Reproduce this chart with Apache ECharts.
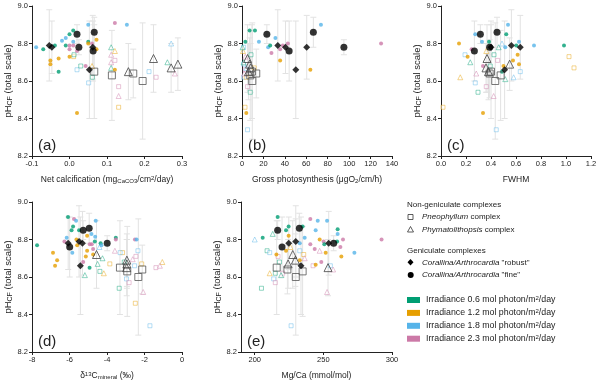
<!DOCTYPE html>
<html>
<head>
<meta charset="utf-8">
<script src="https://cdn.jsdelivr.net/npm/echarts@6/dist/echarts.min.js"></script>
<style>
  html, body { margin: 0; padding: 0; background: #fff; }
  #chart { width: 600px; height: 382px; }
</style>
</head>
<body>
<div id="chart"></div>
<script>
// irradiance classes: 0.6, 1.2, 1.8, 2.3 mol photon/m2/day
const irrColors = ['#009E73', '#E69F00', '#56B4E9', '#CC79A7'];
const irrValues = ['0.6', '1.2', '1.8', '2.3'];

// group means of pHcf (same in every panel) and their error
const finePH = [8.85, 8.86, 8.78, 8.76];
const fineErr = [0.05, 0.08, 0.04, 0.16];
const robustPH = [8.79, 8.78, 8.78, 8.66];
const robustErr = [0.19, 0.14, 0.17, 0.26];
const pneoPH = [8.65, 8.63, 8.64, 8.60];
const pneoErr = [0.25, 0.24, 0.13, 0.31];
const phymPH = [8.65, 8.72, 8.67, 8.69];
const phymErr = [0.15, 0.18, 0.13, 0.14];

// (a) net calcification
const aFineX = [0.02, 0.066, 0.025, 0.063];
const aRobustX = [-0.054, -0.047, 0.062, 0.053];
const aPneoX = [0.066, 0.113, 0.17, 0.195];
const aPhymX = [0.157, 0.224, 0.271, 0.289];
// [x, pH, irradiance index]
const aDots = [[-0.089,8.78,2],[-0.07,8.77,0],[-0.039,8.79,0],[-0.051,8.71,1],[-0.051,8.69,1],[-0.029,8.72,1],[-0.029,8.65,0],[-0.02,8.815,2],[-0.01,8.83,2],[0.0,8.85,0],[0.01,8.87,0],[-0.01,8.79,0],[0.01,8.81,2],[0.0,8.79,3],[0.01,8.79,3],[0.0,8.77,3],[0.02,8.76,3],[0.0,8.73,1],[0.05,8.90,2],[0.05,8.81,0],[0.05,8.80,1],[0.06,8.80,3],[0.072,8.82,1],[0.072,8.77,1],[0.121,8.91,3],[0.153,8.90,2],[0.02,8.43,1],[0.121,8.66,1],[0.043,8.68,3]];
const aSquares = [[0.02,8.66,2],[0.011,8.73,1],[0.012,8.74,0],[0.03,8.68,0],[0.051,8.59,2],[0.061,8.62,0],[0.121,8.71,3],[0.131,8.57,3],[0.131,8.46,1],[0.212,8.65,2],[0.231,8.62,3]];
const aTriangles = [[0.111,8.78,0],[0.121,8.76,1],[0.111,8.74,3],[0.111,8.70,3],[0.111,8.67,0],[0.131,8.52,3],[0.271,8.80,2],[0.261,8.70,0],[0.281,8.64,3],[0.06,8.68,1]];

// (b) gross photosynthesis
const bFineX = [23.2, 66.6, 95.1, 44.0];
const bRobustX = [33.4, 40.6, 60.4, 50.2];
const bPneoX = [9.3, 7.7, 13.3, 9.6];
const bPhymX = [6, 5.2, 8, 7.1];
const bDots = [[7.1,8.87,0],[12.1,8.87,0],[3.1,8.81,0],[15.8,8.81,2],[24.4,8.78,2],[26.3,8.79,0],[27.5,8.75,3],[31.2,8.83,2],[35.6,8.71,1],[35.6,8.77,3],[38.1,8.79,3],[42.8,8.80,3],[73.7,8.90,2],[63.8,8.66,1],[129.8,8.80,3],[4.0,8.43,1]];
const bSquares = [[1.5,8.78,2],[8.4,8.74,0],[11.4,8.67,1],[1.5,8.69,2],[5.2,8.57,3],[7.7,8.54,0],[2.8,8.46,1],[5.2,8.34,2],[1.5,8.62,2],[4.0,8.62,1],[3.0,8.66,3]];
const bTriangles = [[0.9,8.76,1],[3.1,8.73,3],[1.5,8.70,0],[4.0,8.67,2],[2.0,8.64,3],[0.5,8.78,0]];

// (c) FWHM
const cFineX = [0.315, 0.448, 0.389, 0.267];
const cRobustX = [0.563, 0.40, 0.634, 0.509];
const cPneoX = [0.40, 0.477, 0.389, 0.434];
const cPhymX = [0.38, 0.368, 0.36, 0.549];
const cDots = [[0.536,8.90,2],[0.522,8.85,0],[0.274,8.85,2],[0.328,8.81,2],[0.384,8.81,0],[0.514,8.78,2],[0.602,8.79,0],[0.624,8.81,2],[0.744,8.79,2],[0.984,8.79,0],[0.144,8.80,1],[0.213,8.73,1],[0.576,8.71,1],[0.613,8.74,1],[0.624,8.69,1],[0.245,8.77,3],[0.336,8.68,3],[0.336,8.43,1],[0.488,8.65,0],[0.50,8.68,1]];
const cSquares = [[1.024,8.73,1],[1.064,8.67,1],[0.016,8.46,1],[0.192,8.74,2],[0.424,8.74,0],[0.453,8.71,3],[0.634,8.65,2],[0.274,8.59,2],[0.296,8.54,0],[0.362,8.57,3],[0.442,8.34,2],[0.394,8.68,0]];
const cTriangles = [[0.154,8.62,1],[0.234,8.70,0],[0.282,8.64,3],[0.461,8.78,0],[0.488,8.80,2],[0.514,8.61,0],[0.581,8.62,2],[0.421,8.52,3],[0.362,8.76,1]];

// (d) d13C mineral
const dFineX = [-5.27, -4.95, -3.99, -5.99];
const dRobustX = [-5.49, -6.07, -5.31, -5.42];
const dPneoX = [-3.31, -2.92, -2.12, -2.33];
const dPhymX = [-2.95, -4.56, -2.94, -2.94];
const dDots = [[-7.73,8.77,0],[-6.88,8.73,1],[-6.66,8.69,1],[-6.77,8.66,1],[-6.08,8.92,0],[-5.76,8.91,3],[-5.65,8.90,2],[-5.81,8.87,0],[-5.89,8.85,0],[-5.49,8.85,0],[-4.6,8.90,2],[-5.06,8.82,1],[-4.83,8.83,2],[-4.63,8.815,2],[-4.65,8.79,0],[-6.27,8.79,3],[-6.15,8.81,2],[-5.63,8.80,1],[-5.59,8.77,1],[-4.92,8.775,3],[-4.81,8.775,3],[-4.74,8.75,3],[-5.06,8.74,1],[-5.13,8.71,1],[-4.74,8.72,1],[-5.27,8.68,3],[-4.93,8.65,0],[-3.53,8.81,0],[-3.53,8.80,3],[-2.51,8.80,3],[-2.42,8.80,2],[-4.34,8.78,0],[-4.3,8.77,2],[-5.85,8.73,2]];
const dSquares = [[-3.85,8.67,1],[-3.17,8.73,1],[-3.3,8.73,2],[-2.35,8.74,2],[-3.08,8.68,0],[-4.38,8.63,0],[-2.96,8.59,2],[-2.82,8.57,3],[-2.46,8.71,3],[-3.35,8.54,0],[-2.49,8.46,1],[-1.71,8.34,2],[-1.39,8.65,3],[-2.15,8.67,1],[-2.53,8.66,2]];
const dTriangles = [[-5.18,8.61,0],[-3.58,8.74,3],[-4.24,8.70,0],[-4.5,8.67,0],[-4.17,8.62,1],[-2.07,8.52,3],[-1.05,8.68,1],[-1.18,8.66,3],[-2.63,8.695,3],[-4.4,8.76,2]];

// (e) Mg/Ca
const eFineX = [216.7, 232.5, 257.5, 219.9];
const eRobustX = [229.9, 224.8, 253.9, 233.7];
const ePneoX = [216.0, 234.9, 223.8, 229.9];
const ePhymX = [253.4, 227.7, 224.3, 229.6];
const eDots = [[216.7,8.92,0],[205.8,8.81,0],[224.7,8.87,0],[222.8,8.85,0],[224.7,8.82,1],[234.9,8.87,0],[232.8,8.78,2],[236.4,8.81,2],[240.5,8.91,3],[245.9,8.90,2],[252.7,8.90,2],[244.4,8.85,2],[260.4,8.855,0],[260.4,8.83,2],[240.5,8.775,3],[243.7,8.75,3],[247.3,8.80,1],[250.2,8.79,3],[250.7,8.775,0],[251.7,8.73,1],[248.5,8.68,3],[244.4,8.665,1],[262.4,8.76,3],[264.3,8.80,3],[272.6,8.73,2],[263.1,8.71,1],[292.4,8.80,3],[215.8,8.72,1],[222.8,8.74,1],[232.8,8.69,1],[260,8.79,0]];
const eSquares = [[209,8.74,0],[210.9,8.73,2],[218,8.68,0],[213.8,8.59,2],[215,8.57,3],[204.9,8.54,0],[226.5,8.34,2],[217,8.71,3],[215,8.62,0],[232.8,8.74,2],[235.7,8.72,1],[220.4,8.62,3],[255.1,8.66,2],[242.5,8.66,3]];
const eTriangles = [[200,8.80,2],[213.1,8.83,0],[210.9,8.62,1],[219.2,8.61,0],[236.4,8.70,3],[247.3,8.74,3],[252.7,8.52,3],[257.1,8.64,3],[226,8.76,1]];

const FONT = 'Liberation Sans, Arial, sans-serif';
const TXT = '#222';
function subRich(size) {
  return {
    sub: { fontSize: size, verticalAlign: 'bottom', lineHeight: size, fontFamily: FONT, color: TXT },
    sup: { fontSize: size, verticalAlign: 'top', lineHeight: size, fontFamily: FONT, color: TXT }
  };
}

const panels = [
  { letter: '(a)', grid: { left: 32, top: 6, width: 150, height: 150 },
    x: { min: -0.1, max: 0.3, interval: 0.1, dec: 1 },
    name: 'Net calcification (mg{sub|CaCO3}/cm{sup|2}/day)',
    fineX: aFineX, robustX: aRobustX, pneoX: aPneoX, phymX: aPhymX,
    dots: aDots, squares: aSquares, triangles: aTriangles },
  { letter: '(b)', grid: { left: 242, top: 6, width: 150, height: 150 },
    x: { min: 0, max: 140, interval: 20, dec: 0 },
    name: 'Gross photosynthesis (μgO{sub|2}/cm/h)',
    fineX: bFineX, robustX: bRobustX, pneoX: bPneoX, phymX: bPhymX,
    dots: bDots, squares: bSquares, triangles: bTriangles },
  { letter: '(c)', grid: { left: 441, top: 6, width: 150, height: 150 },
    x: { min: 0, max: 1.2, interval: 0.2, dec: 1 },
    name: 'FWHM',
    fineX: cFineX, robustX: cRobustX, pneoX: cPneoX, phymX: cPhymX,
    dots: cDots, squares: cSquares, triangles: cTriangles },
  { letter: '(d)', grid: { left: 32, top: 202, width: 150, height: 150 },
    x: { min: -8, max: 0, interval: 2, dec: 0 },
    name: 'δ{sup|13}C{sub|mineral} (‰)',
    fineX: dFineX, robustX: dRobustX, pneoX: dPneoX, phymX: dPhymX,
    dots: dDots, squares: dSquares, triangles: dTriangles },
  { letter: '(e)', grid: { left: 241, top: 202, width: 151, height: 150 },
    x: { min: 190, max: 300, custom: [200, 250, 300], dec: 0 },
    name: 'Mg/Ca (mmol/mol)',
    fineX: eFineX, robustX: eRobustX, pneoX: ePneoX, phymX: ePhymX,
    dots: eDots, squares: eSquares, triangles: eTriangles }
];

function renderErr(params, api) {
  const x = api.value(0);
  const top = api.coord([x, api.value(2)]);
  const bot = api.coord([x, api.value(1)]);
  const w = 3;
  const style = { stroke: '#e2e2e2', lineWidth: 1 };
  return {
    type: 'group',
    children: [
      { type: 'line', shape: { x1: top[0], y1: top[1], x2: bot[0], y2: bot[1] }, style: style },
      { type: 'line', shape: { x1: top[0] - w, y1: top[1], x2: top[0] + w, y2: top[1] }, style: style },
      { type: 'line', shape: { x1: bot[0] - w, y1: bot[1], x2: bot[0] + w, y2: bot[1] }, style: style }
    ]
  };
}

const axisLine = { onZero: false, lineStyle: { color: '#222', width: 1 } };
const axisTick = { length: 3, lineStyle: { color: '#222' } };

let grids = [], xAxes = [], yAxes = [], series = [], graphics = [];

panels.forEach(function (p, i) {
  grids.push(p.grid);
  let xa = {
    type: 'value', gridIndex: i, min: p.x.min, max: p.x.max,
    axisLine: axisLine, axisTick: Object.assign({}, axisTick),
    splitLine: { show: false },
    axisLabel: { fontSize: 7.5, color: TXT, fontFamily: FONT, margin: 4,
      formatter: function (v) { return v.toFixed(p.x.dec); } },
    name: p.name, nameLocation: 'middle', nameGap: 19,
    nameTextStyle: { fontSize: 8.5, color: TXT, fontFamily: FONT, rich: subRich(6) }
  };
  if (p.x.custom) {
    xa.axisTick.customValues = p.x.custom;
    xa.axisLabel.customValues = p.x.custom;
  } else {
    xa.interval = p.x.interval;
  }
  xAxes.push(xa);
  yAxes.push({
    type: 'value', gridIndex: i, min: 8.2, max: 9.0, interval: 0.2,
    axisLine: axisLine, axisTick: axisTick, splitLine: { show: false },
    axisLabel: { fontSize: 7.5, color: TXT, fontFamily: FONT, margin: 4,
      formatter: function (v) { return v.toFixed(1); } },
    name: 'pH{sub|CF} (total scale)', nameLocation: 'middle', nameGap: 11,
    nameTextStyle: { fontSize: 9.5, color: TXT, fontFamily: FONT, rich: subRich(7) }
  });

  // error bars for the group means
  const errData = [];
  [[p.fineX, finePH, fineErr], [p.robustX, robustPH, robustErr],
   [p.pneoX, pneoPH, pneoErr], [p.phymX, phymPH, phymErr]].forEach(function (g) {
    g[0].forEach(function (x, k) { errData.push([x, g[1][k] - g[2][k], g[1][k] + g[2][k]]); });
  });
  series.push({ type: 'custom', xAxisIndex: i, yAxisIndex: i, renderItem: renderErr,
    encode: { x: 0, y: [1, 2] }, data: errData, z: 1, silent: true });

  // individual samples
  series.push({ type: 'scatter', xAxisIndex: i, yAxisIndex: i, symbol: 'rect', symbolSize: 4, z: 2,
    data: p.squares.map(function (d) {
      return { value: [d[0], d[1]], itemStyle: { color: '#fff', borderColor: irrColors[d[2]], borderWidth: 0.8, opacity: 0.55 } };
    }) });
  series.push({ type: 'scatter', xAxisIndex: i, yAxisIndex: i, symbol: 'triangle', symbolSize: 5, z: 2,
    data: p.triangles.map(function (d) {
      return { value: [d[0], d[1]], itemStyle: { color: '#fff', borderColor: irrColors[d[2]], borderWidth: 0.8, opacity: 0.55 } };
    }) });
  series.push({ type: 'scatter', xAxisIndex: i, yAxisIndex: i, symbol: 'circle', symbolSize: 4, z: 3,
    data: p.dots.map(function (d) {
      return { value: [d[0], d[1]], itemStyle: { color: irrColors[d[2]] } };
    }) });

  // group means
  series.push({ type: 'scatter', xAxisIndex: i, yAxisIndex: i, symbol: 'rect', symbolSize: 7, z: 4,
    itemStyle: { color: 'rgba(255,255,255,0)', borderColor: '#555', borderWidth: 1 },
    data: p.pneoX.map(function (x, k) { return [x, pneoPH[k]]; }) });
  series.push({ type: 'scatter', xAxisIndex: i, yAxisIndex: i, symbol: 'triangle', symbolSize: 8, z: 4,
    itemStyle: { color: 'rgba(255,255,255,0)', borderColor: '#444', borderWidth: 1 },
    data: p.phymX.map(function (x, k) { return [x, phymPH[k]]; }) });
  series.push({ type: 'scatter', xAxisIndex: i, yAxisIndex: i, symbol: 'diamond', symbolSize: 7, z: 5,
    itemStyle: { color: '#000' },
    data: p.robustX.map(function (x, k) { return [x, robustPH[k]]; }) });
  series.push({ type: 'scatter', xAxisIndex: i, yAxisIndex: i, symbol: 'circle', symbolSize: 7, z: 5,
    itemStyle: { color: '#000' },
    data: p.fineX.map(function (x, k) { return [x, finePH[k]]; }) });

  graphics.push({ type: 'text', left: p.grid.left + 6, top: p.grid.top + p.grid.height - 18,
    style: { text: p.letter, fontSize: 15, fontFamily: FONT, fill: TXT } });
});

// legend
const legRich = {
  i: { fontStyle: 'italic', fontSize: 8, fontFamily: FONT, color: TXT },
  sup: { fontSize: 6, verticalAlign: 'top', lineHeight: 6, fontFamily: FONT, color: TXT }
};
function legText(x, y, text, size) {
  return { type: 'text', x: x, y: y,
    style: { text: text, fontSize: size || 8, fontFamily: FONT, fill: TXT, rich: legRich, verticalAlign: 'middle' } };
}
graphics.push(legText(407, 205, 'Non-geniculate complexes'));
graphics.push({ type: 'rect', shape: { x: 408, y: 214.5, width: 5, height: 5 }, style: { fill: '#fff', stroke: '#333', lineWidth: 0.8 } });
graphics.push(legText(422, 217, '{i|Pneophyllum} complex'));
graphics.push({ type: 'polygon', shape: { points: [[410.5, 226.5], [407.5, 232], [413.5, 232]] }, style: { fill: '#fff', stroke: '#333', lineWidth: 0.8 } });
graphics.push(legText(422, 229.5, '{i|Phymatolithopsis} complex'));
graphics.push(legText(407, 251, 'Geniculate complexes'));
graphics.push({ type: 'polygon', shape: { points: [[410.5, 259], [413.5, 262.3], [410.5, 265.6], [407.5, 262.3]] }, style: { fill: '#000' } });
graphics.push(legText(422, 262.5, '{i|Corallina/Arthrocardia} "robust"'));
graphics.push({ type: 'circle', shape: { cx: 410.7, cy: 275, r: 3 }, style: { fill: '#000' } });
graphics.push(legText(422, 275, '{i|Corallina/Arthrocardia} "fine"'));
irrValues.forEach(function (v, k) {
  const cy = 300 + k * 12.9;
  graphics.push({ type: 'rect', shape: { x: 407, y: cy - 3, width: 13, height: 6 }, style: { fill: irrColors[k] } });
  graphics.push(legText(426, cy, 'Irradiance ' + v + ' mol photon/m{sup|2}/day', 8.8));
});

const chart = echarts.init(document.getElementById('chart'), null, { renderer: 'canvas' });
chart.setOption({
  animation: false,
  backgroundColor: '#fff',
  textStyle: { fontFamily: FONT },
  grid: grids,
  xAxis: xAxes,
  yAxis: yAxes,
  series: series,
  graphic: graphics
});
</script>
</body>
</html>
